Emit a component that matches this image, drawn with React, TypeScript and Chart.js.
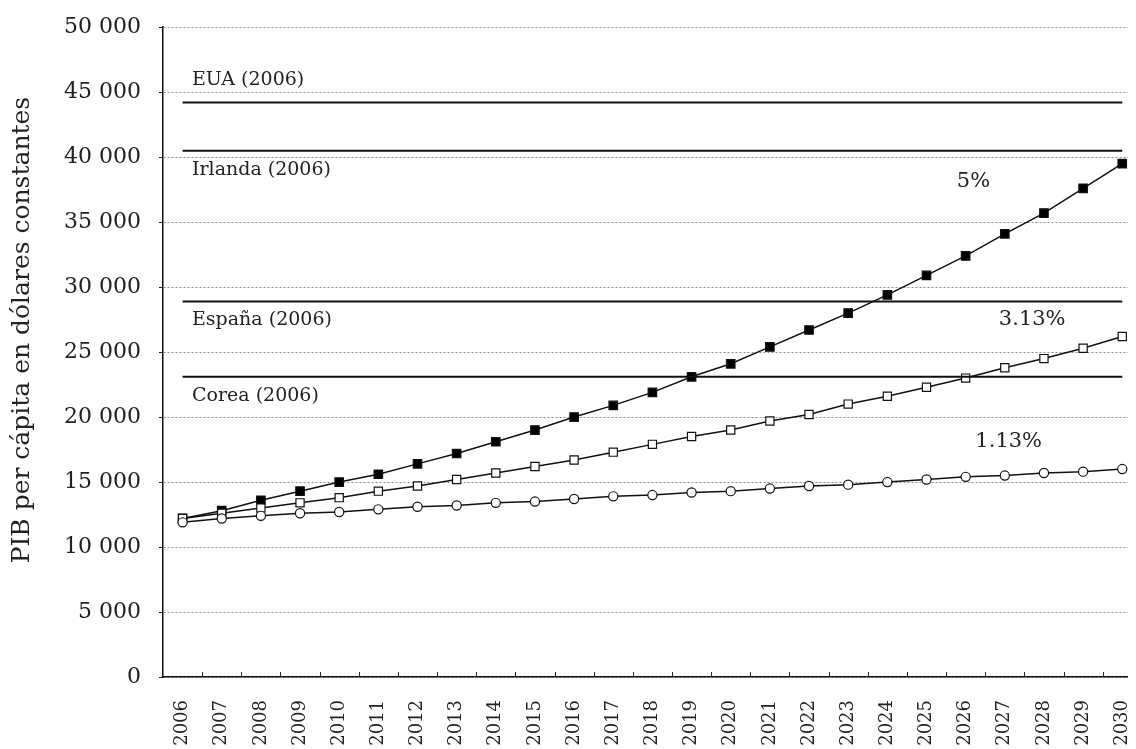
import React, { useEffect, useRef } from "react";
import { Chart, registerables } from "chart.js";

Chart.register(...registerables);

const years = [
  "2006", "2007", "2008", "2009", "2010", "2011", "2012", "2013", "2014", "2015",
  "2016", "2017", "2018", "2019", "2020", "2021", "2022", "2023", "2024", "2025",
  "2026", "2027", "2028", "2029", "2030",
];

const growth5 = [
  12200, 12800, 13600, 14300, 15000, 15600, 16400, 17200, 18100, 19000,
  20000, 20900, 21900, 23100, 24100, 25400, 26700, 28000, 29400, 30900,
  32400, 34100, 35700, 37600, 39500,
];

const growth313 = [
  12200, 12600, 13000, 13400, 13800, 14300, 14700, 15200, 15700, 16200,
  16700, 17300, 17900, 18500, 19000, 19700, 20200, 21000, 21600, 22300,
  23000, 23800, 24500, 25300, 26200,
];

const growth113 = [
  11900, 12200, 12400, 12600, 12700, 12900, 13100, 13200, 13400, 13500,
  13700, 13900, 14000, 14200, 14300, 14500, 14700, 14800, 15000, 15200,
  15400, 15500, 15700, 15800, 16000,
];

const benchmarkNames = ["EUA (2006)", "Irlanda (2006)", "España (2006)", "Corea (2006)"];
const benchmarkValues = [44200, 40500, 28900, 23100];

const rateLabels = ["5%", "3.13%", "1.13%"];
const rateLabelYear = [20.2, 21.7, 21.1];
const rateLabelValue = [38100, 27500, 18100];

const yTitle = "PIB per cápita en dólares constantes";

const SERIF = '"DejaVu Serif", "Liberation Serif", serif';

const fmt = (v: number) => String(v).replace(/\B(?=(\d{3})+(?!\d))/g, " ");

const annotPlugin = {
  id: "annot",
  afterDatasetsDraw(chart: any) {
    const { ctx, scales } = chart;
    const x = scales.x;
    const y = scales.y;
    const n = years.length;
    const w = (x.right - x.left) / n;
    ctx.save();
    // inward tick marks on x axis at category boundaries
    ctx.strokeStyle = "#222";
    ctx.lineWidth = 1;
    for (let i = 1; i < n; i++) {
      const px = Math.round(x.left + i * w) + 0.5;
      ctx.beginPath();
      ctx.moveTo(px, y.bottom);
      ctx.lineTo(px, y.bottom - 5);
      ctx.stroke();
    }
    // benchmark labels
    ctx.fillStyle = "#222";
    ctx.font = `19px ${SERIF}`;
    ctx.textAlign = "left";
    ctx.textBaseline = "middle";
    benchmarkNames.forEach((name, i) => {
      const py = y.getPixelForValue(benchmarkValues[i]);
      const off = i === 0 ? -23 : 19;
      ctx.fillText(name, x.left + 29, py + off);
    });
    // growth rate labels
    ctx.font = `21px ${SERIF}`;
    ctx.textAlign = "center";
    const x0 = x.getPixelForValue(0);
    rateLabels.forEach((t, i) => {
      ctx.fillText(t, x0 + rateLabelYear[i] * w, y.getPixelForValue(rateLabelValue[i]));
    });
    // y axis title
    ctx.font = `25px ${SERIF}`;
    ctx.translate(14, (y.top + y.bottom) / 2 - 22);
    ctx.rotate(-Math.PI / 2);
    ctx.textAlign = "center";
    ctx.textBaseline = "middle";
    ctx.fillText(yTitle, 0, 0);
    ctx.restore();
  },
};

export default function App() {
  const ref = useRef<HTMLCanvasElement | null>(null);

  useEffect(() => {
    if (!ref.current) return;
    const lineCommon = {
      borderColor: "#111",
      borderWidth: 1.5,
      pointBorderColor: "#111",
      pointBorderWidth: 1.2,
      tension: 0,
    };
    const benchmarkSets = benchmarkValues.map((v, i) => ({
      label: benchmarkNames[i],
      data: years.map(() => v),
      borderColor: "#111",
      borderWidth: 2,
      pointRadius: 0,
      tension: 0,
    }));
    const chart = new Chart(ref.current, {
      type: "line",
      data: {
        labels: years,
        datasets: [
          ...benchmarkSets,
          {
            label: "1.13%",
            data: growth113,
            ...lineCommon,
            pointStyle: "circle",
            pointRadius: 4.6,
            pointBackgroundColor: "#fff",
          },
          {
            label: "3.13%",
            data: growth313,
            ...lineCommon,
            pointStyle: "rect",
            pointRadius: 5.8,
            pointBackgroundColor: "#fff",
          },
          {
            label: "5%",
            data: growth5,
            ...lineCommon,
            pointStyle: "rect",
            pointRadius: 6,
            pointBackgroundColor: "#000",
          },
        ],
      },
      options: {
        animation: false,
        responsive: true,
        maintainAspectRatio: false,
        layout: { padding: { top: 7, right: 0, left: 0, bottom: 0 } },
        plugins: {
          legend: { display: false },
          tooltip: { enabled: false },
        },
        scales: {
          x: {
            type: "category",
            offset: true,
            grid: { display: true, drawOnChartArea: false, drawTicks: false, offset: true },
            border: { display: true, color: "#111", width: 1.5 },
            ticks: {
              autoSkip: false,
              minRotation: 90,
              maxRotation: 90,
              padding: 23,
              color: "#222",
              font: { family: SERIF, size: 18 },
            },
            afterFit: (s: any) => {
              s.height = 72;
            },
          },
          y: {
            min: 0,
            max: 50000,
            ticks: {
              stepSize: 5000,
              padding: 18,
              color: "#222",
              font: { family: SERIF, size: 22 },
              callback: (v: any) => fmt(Number(v)),
            },
            grid: {
              color: "#8c8c8c",
              lineWidth: 1,
              tickColor: "#222",
              tickLength: 4,
              tickBorderDash: [],
            },
            border: { display: true, color: "#111", width: 1.5, dash: [2, 2] },
            afterFit: (s: any) => {
              s.width = 155;
            },
          },
        },
      },
      plugins: [annotPlugin],
    });
    return () => chart.destroy();
  }, []);

  return (
    <div style={{ width: 1128, height: 741, overflow: "hidden" }}>
      <div style={{ width: 1159, height: 753, position: "relative", top: -12 }}>
        <canvas ref={ref} />
      </div>
    </div>
  );
}
